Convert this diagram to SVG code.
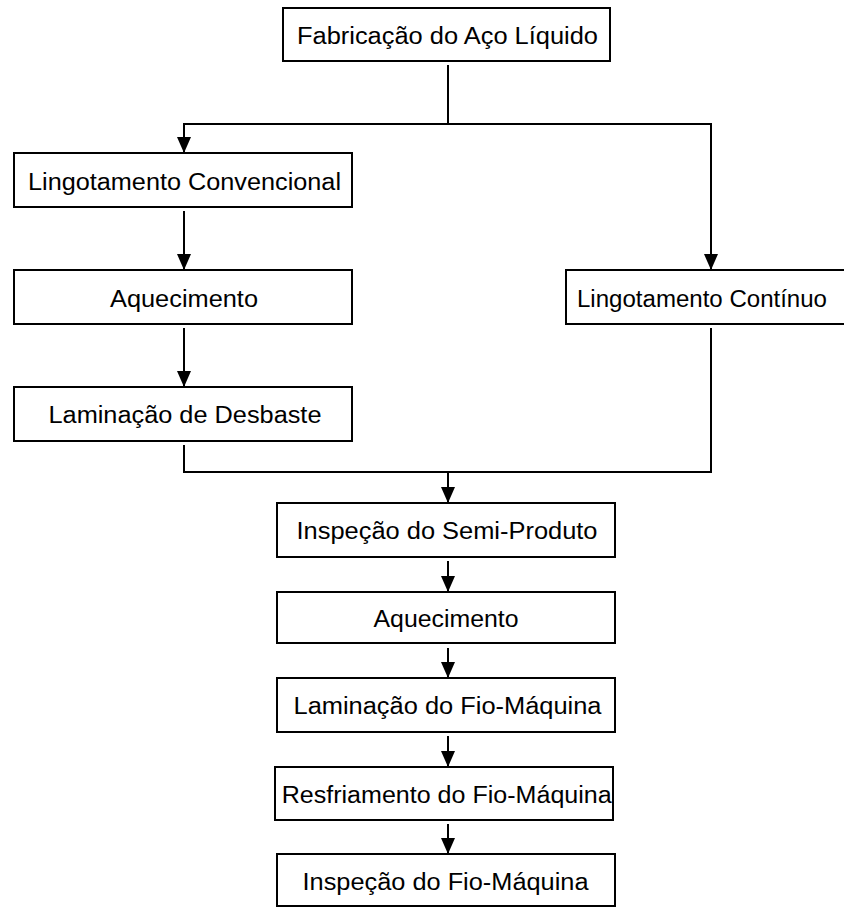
<svg xmlns="http://www.w3.org/2000/svg" width="844" height="907" viewBox="0 0 844 907">
<style>
.box{fill:#fff;stroke:#000;stroke-width:2}
.lbl{font-family:"Liberation Sans",Arial,sans-serif;font-size:23px;fill:#000;text-anchor:middle}
.ln{fill:none;stroke:#000;stroke-width:2}
.ar{fill:none;stroke:#000;stroke-width:2;marker-end:url(#ah)}
</style>
<defs>
<marker id="ah" markerUnits="userSpaceOnUse" markerWidth="16" markerHeight="16" viewBox="0 0 16 14" refX="16" refY="7" orient="auto">
<path d="M0,0 L16,7 L0,14 Z" fill="#000"/>
</marker>
</defs>
<rect width="844" height="907" fill="#fff"/>
<g id="connectors">
<line class="ln" x1="448" y1="65" x2="448" y2="124"/>
<line class="ln" x1="183" y1="124" x2="712" y2="124"/>
<line class="ar" x1="184" y1="124" x2="184" y2="153"/>
<line class="ar" x1="711" y1="124" x2="711" y2="270"/>
<line class="ar" x1="184" y1="211" x2="184" y2="270"/>
<line class="ar" x1="184" y1="328" x2="184" y2="387"/>
<polyline class="ln" points="184,445 184,472 711,472 711,328"/>
<line class="ar" x1="448" y1="472" x2="448" y2="503"/>
<line class="ar" x1="448" y1="561" x2="448" y2="592"/>
<line class="ar" x1="448" y1="648" x2="448" y2="678"/>
<line class="ar" x1="448" y1="736" x2="448" y2="767"/>
<line class="ar" x1="448" y1="824" x2="448" y2="854"/>
</g>
<g id="n1"><rect class="box" x="283" y="8" width="327" height="53"/><text class="lbl" x="447.5" y="43.5" textLength="301" lengthAdjust="spacingAndGlyphs">Fabricação do Aço Líquido</text></g>
<g id="n2"><rect class="box" x="14" y="153" width="338" height="54"/><text class="lbl" x="184.5" y="190" textLength="313" lengthAdjust="spacingAndGlyphs">Lingotamento Convencional</text></g>
<g id="n3"><rect class="box" x="14" y="270" width="338" height="54"/><text class="lbl" x="184" y="306.5" textLength="148" lengthAdjust="spacingAndGlyphs">Aquecimento</text></g>
<g id="n4"><rect class="box" x="14" y="387" width="338" height="54"/><text class="lbl" x="185" y="422.7" textLength="273" lengthAdjust="spacingAndGlyphs">Laminação de Desbaste</text></g>
<g id="n5"><rect class="box" x="566" y="270" width="290" height="54"/><text class="lbl" x="702" y="306.5" textLength="250" lengthAdjust="spacingAndGlyphs">Lingotamento Contínuo</text></g>
<g id="n6"><rect class="box" x="277" y="503" width="338" height="54"/><text class="lbl" x="447" y="539.3" textLength="301" lengthAdjust="spacingAndGlyphs">Inspeção do Semi-Produto</text></g>
<g id="n7"><rect class="box" x="277" y="592" width="338" height="51"/><text class="lbl" x="446" y="627.3" textLength="145" lengthAdjust="spacingAndGlyphs">Aquecimento</text></g>
<g id="n8"><rect class="box" x="277" y="678" width="338" height="54"/><text class="lbl" x="447.5" y="714.3" textLength="308" lengthAdjust="spacingAndGlyphs">Laminação do Fio-Máquina</text></g>
<g id="n9"><rect class="box" x="275" y="767" width="338" height="53"/><text class="lbl" x="446.7" y="803.3" textLength="330" lengthAdjust="spacingAndGlyphs">Resfriamento do Fio-Máquina</text></g>
<g id="n10"><rect class="box" x="277" y="854" width="338" height="52"/><text class="lbl" x="445.5" y="890" textLength="286" lengthAdjust="spacingAndGlyphs">Inspeção do Fio-Máquina</text></g>
</svg>
